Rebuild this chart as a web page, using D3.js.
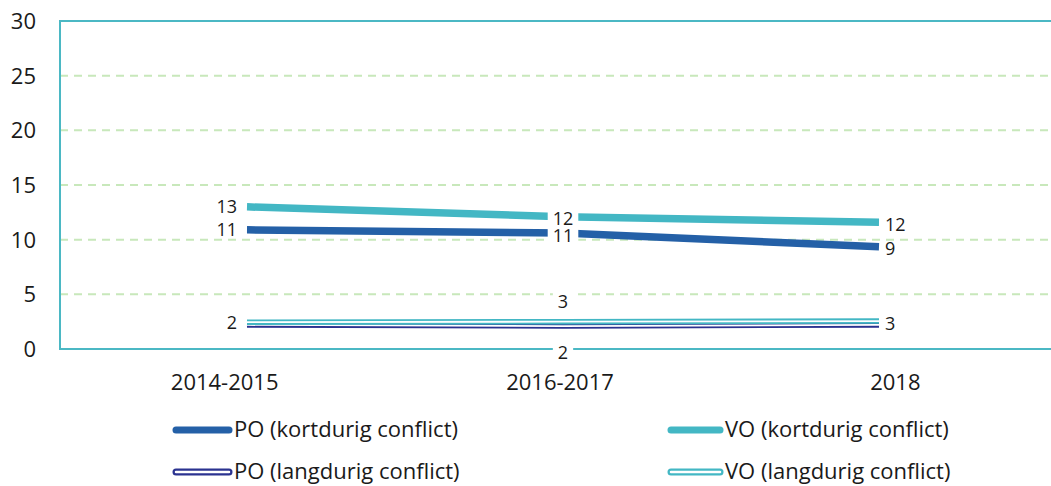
<!DOCTYPE html>
<meta charset="utf-8">
<style>
  body { margin: 0; background: #fff; }
  text { font-family: "Open Sans", sans-serif; fill: #1a1a1a; }
</style>

<!-- Load d3.js -->
<script src="https://d3js.org/d3.v7.min.js"></script>

<div id="my_dataviz"></div>

<script>

// data
var years = ["2014-2015", "2016-2017", "2018"];
var poKort = [10.9, 10.6, 9.35];
var voKort = [13.0, 12.1, 11.6];
var poLang = [2.2, 2.1, 2.2];
var voLang = [2.45, 2.5, 2.55];
var yTicks = [0, 5, 10, 15, 20, 25, 30];

var colTeal = "#43b7c4",
    colBlue = "#2460a7",
    colNavy = "#2b3390";

// series + how their labels sit (left / center / above / below / right, null = none)
var series = [
  {name: "PO (langdurig conflict)", values: poLang, color: colNavy, double: true,  labels: [null, "below", null]},
  {name: "VO (langdurig conflict)", values: voLang, color: colTeal, double: true,  labels: ["left", "above", "right"]},
  {name: "PO (kortdurig conflict)", values: poKort, color: colBlue, double: false, labels: ["left", "center", "right"]},
  {name: "VO (kortdurig conflict)", values: voKort, color: colTeal, double: false, labels: ["left", "center", "right"]}
];

var width = 1051, height = 486;

var svg = d3.select("#my_dataviz")
  .append("svg")
    .attr("width", width)
    .attr("height", height);

// scales
var y = d3.scaleLinear().domain([0, 30]).range([349, 21]);
var xBand = d3.scaleBand().domain(years).range([57, 1063]);   // category labels
var x = d3.scalePoint().domain(years).range([247, 879]);      // line points

// dashed grid lines
svg.selectAll(".grid")
  .data(yTicks.filter(function(d) { return d > 0 && d < 30; }))
  .enter().append("line")
    .attr("x1", 60).attr("x2", width)
    .attr("y1", function(d) { return y(d); })
    .attr("y2", function(d) { return y(d); })
    .attr("stroke", "#c8e8bb")
    .attr("stroke-width", 2)
    .attr("stroke-dasharray", "8,6");

// frame: top, left, bottom
svg.append("path")
  .attr("d", "M" + width + "," + y(30) + "H60V" + y(0) + "H" + width)
  .attr("fill", "none")
  .attr("stroke", "#4bb8c4")
  .attr("stroke-width", 2);

// y tick labels
svg.selectAll(".ytick")
  .data(yTicks)
  .enter().append("text")
    .attr("x", 36)
    .attr("y", function(d) { return y(d); })
    .attr("dy", "0.36em")
    .attr("text-anchor", "end")
    .style("font-size", "22px")
    .text(function(d) { return d; });

// x tick labels
svg.selectAll(".xtick")
  .data(years)
  .enter().append("text")
    .attr("x", function(d) { return xBand(d) + xBand.bandwidth() / 2; })
    .attr("y", 382)
    .attr("dy", "0.36em")
    .attr("text-anchor", "middle")
    .style("font-size", "22px")
    .text(function(d) { return d; });

// lines
var line = d3.line()
  .x(function(d, i) { return x(years[i]); })
  .y(function(d) { return y(d); });

series.forEach(function(s) {
  svg.append("path")
    .datum(s.values)
    .attr("d", line)
    .attr("fill", "none")
    .attr("stroke", s.color)
    .attr("stroke-width", s.double ? 5.5 : 7.5);
  if (s.double) {
    svg.append("path")
      .datum(s.values)
      .attr("d", line)
      .attr("fill", "none")
      .attr("stroke", "#fff")
      .attr("stroke-width", 1.8);
  }
});

// data labels
var labelOrder = [series[2], series[3], series[0], series[1]];
labelOrder.forEach(function(s) {
  s.values.forEach(function(v, i) {
    var pos = s.labels[i];
    if (!pos) return;
    var px = x(years[i]), py = y(v), anchor = "middle";
    if (pos == "left") { px -= 10; anchor = "end"; }
    if (pos == "right") { px += 6; anchor = "start"; py += 2; }
    if (pos == "above") py -= 20;
    if (pos == "below") py += 26;
    if (pos == "center") py += 2;
    var g = svg.append("g");
    var t = g.append("text")
      .attr("x", px)
      .attr("y", py)
      .attr("dy", "0.36em")
      .attr("text-anchor", anchor)
      .style("font-size", "18px")
      .text(Math.round(v));
    if (pos == "center" || pos == "above" || pos == "below") {
      var b = t.node().getBBox();
      g.insert("rect", "text")
        .attr("x", b.x - 5).attr("y", b.y + 1)
        .attr("width", b.width + 10).attr("height", b.height - 2)
        .attr("fill", "#fff");
    }
  });
});

// legend
var legendItems = [
  {s: series[2], x: 173, y: 430},
  {s: series[3], x: 668, y: 430},
  {s: series[0], x: 173, y: 472},
  {s: series[1], x: 668, y: 472}
];
legendItems.forEach(function(d) {
  var len = d.x < 400 ? 59 : 55;
  svg.append("line")
    .attr("x1", d.x + 3).attr("x2", d.x + len - 3)
    .attr("y1", d.y).attr("y2", d.y)
    .attr("stroke", d.s.color)
    .attr("stroke-width", 7)
    .attr("stroke-linecap", "round");
  if (d.s.double) {
    svg.append("line")
      .attr("x1", d.x + 3).attr("x2", d.x + len - 3)
      .attr("y1", d.y).attr("y2", d.y)
      .attr("stroke", "#fff")
      .attr("stroke-width", 2.5)
      .attr("stroke-linecap", "round");
  }
  svg.append("text")
    .attr("x", d.x + len + 2)
    .attr("y", d.y)
    .attr("dy", "0.33em")
    .style("font-size", "22px")
    .text(d.s.name);
});

</script>
